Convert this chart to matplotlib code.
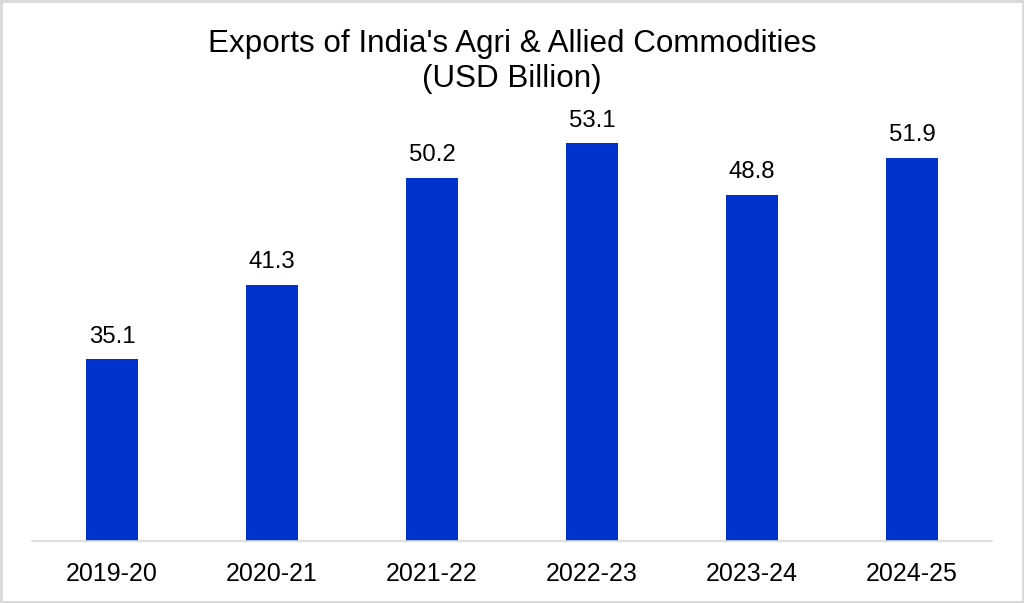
import matplotlib.pyplot as plt
from matplotlib.patches import Rectangle

# datos del gráfico
years = ['2019-20', '2020-21', '2021-22', '2022-23', '2023-24', '2024-25']
exports = [35.1, 41.3, 50.2, 53.1, 48.8, 51.9]

plt.rcParams['font.family'] = ['Liberation Sans', 'DejaVu Sans']

fig = plt.figure(figsize=(10.24, 6.03), dpi=100)
ax = fig.add_axes([32 / 1024, 1 - 540.5 / 603, 960 / 1024, 480 / 603])

x = range(len(years))
bars = ax.bar(x, exports, width=0.325, color='#0033CC', zorder=2)

ax.set_xlim(-0.5, len(years) - 0.5)
ax.set_ylim(20, 60)
ax.set_xticks(list(x))
ax.set_xticklabels(years, fontsize=18)
ax.tick_params(axis='x', length=0, pad=15.5, colors='black')
ax.set_yticks([])

for s in ['top', 'right', 'left']:
    ax.spines[s].set_visible(False)
ax.spines['bottom'].set_color('#d9d9d9')
ax.spines['bottom'].set_linewidth(1.2)

# etiquetas de valor
for b, v in zip(bars, exports):
    ax.annotate(f'{v:.1f}', (b.get_x() + b.get_width() / 2, v),
                xytext=(0, 12), textcoords='offset points',
                ha='center', va='baseline', fontsize=17.3)

# título en dos líneas
fig.text(0.5, 1 - 52 / 603, "Exports of India's Agri & Allied Commodities",
         ha='center', va='baseline', fontsize=22.6)
fig.text(0.5, 1 - 87 / 603, '(USD Billion)',
         ha='center', va='baseline', fontsize=22.6)

# marco gris
fig.patches.append(Rectangle((0, 0), 1, 1, transform=fig.transFigure,
                             fill=False, edgecolor='#d9d9d9', lw=3.5))

fig.savefig('out.png', dpi=100)
